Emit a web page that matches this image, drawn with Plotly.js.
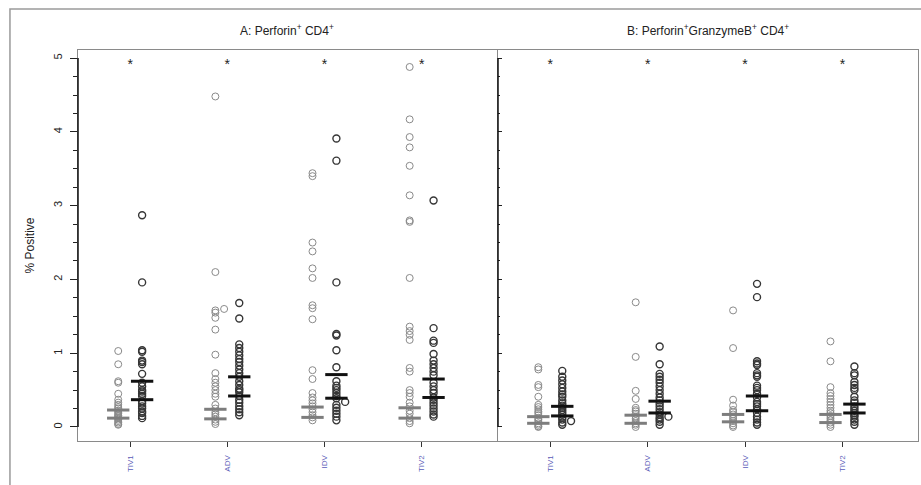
<!DOCTYPE html>
<html>
<head>
<meta charset="utf-8">
<script src="https://cdn.plot.ly/plotly-3.0.1.min.js"></script>
<style>html,body{margin:0;padding:0;background:#fff;}#chart{width:921px;height:485px;}</style>
</head>
<body>
<div id="chart"></div>
<script>
// ---------- DATA ----------
var categories = ["TIV1", "ADV", "IDV", "TIV2"];
var panelTitles = ["A: Perforin<sup>+</sup> CD4<sup>+</sup>", "B: Perforin<sup>+</sup>GranzymeB<sup>+</sup> CD4<sup>+</sup>"];
var yTitle = "% Positive";
var starText = "*";
var starLevel = [4.9, 4.9, 4.9, 4.9];

// Panel A, group 1 (gray) per category
var A_gray_TIV1 = [1.03, 0.85, 0.62, 0.60, 0.45, 0.37, 0.33, 0.30, 0.27, 0.25, 0.22, 0.20, 0.18, 0.16, 0.15, 0.13, 0.12, 0.10, 0.08, 0.06, 0.04, 0.03];
var A_gray_ADV  = [4.48, 2.10, 1.58, 1.55, 1.48, 1.32, 0.98, 0.73, 0.65, 0.60, 0.55, 0.50, 0.45, 0.41, 0.30, 0.25, 0.20, 0.17, 0.14, 0.10, 0.07, 0.04];
var A_gray_IDV  = [3.44, 3.40, 2.50, 2.38, 2.15, 2.02, 1.65, 1.61, 1.46, 0.77, 0.65, 0.46, 0.40, 0.36, 0.32, 0.28, 0.24, 0.20, 0.16, 0.13, 0.09];
var A_gray_TIV2 = [4.88, 4.17, 3.93, 3.79, 3.54, 3.14, 2.80, 2.78, 2.02, 1.36, 1.30, 1.25, 1.18, 0.80, 0.75, 0.50, 0.46, 0.41, 0.33, 0.28, 0.22, 0.18, 0.12, 0.08, 0.05];
// Panel A, group 2 (black)
var A_black_TIV1 = [2.87, 1.96, 1.04, 1.02, 0.90, 0.88, 0.85, 0.72, 0.60, 0.55, 0.50, 0.48, 0.45, 0.42, 0.35, 0.32, 0.28, 0.25, 0.21, 0.19, 0.15, 0.12];
var A_black_ADV  = [1.68, 1.47, 1.12, 1.07, 1.02, 0.97, 0.92, 0.88, 0.83, 0.78, 0.73, 0.68, 0.62, 0.57, 0.52, 0.50, 0.47, 0.42, 0.37, 0.33, 0.28, 0.24, 0.20, 0.16];
var A_black_IDV  = [3.91, 3.61, 1.96, 1.26, 1.24, 1.04, 0.81, 0.62, 0.56, 0.53, 0.50, 0.46, 0.42, 0.39, 0.30, 0.26, 0.22, 0.18, 0.14, 0.09];
var A_black_TIV2 = [3.07, 1.34, 1.17, 1.14, 0.99, 0.90, 0.85, 0.80, 0.75, 0.70, 0.60, 0.55, 0.50, 0.46, 0.40, 0.37, 0.33, 0.29, 0.25, 0.21, 0.17, 0.14];
// points drawn beside their column (stacked ties): [category index, value]
var A_gray_side  = [[1, 1.60]];
var A_black_side = [[2, 0.34]];
// summary bars (upper, lower) per category
var A_gray_upper  = [0.23, 0.24, 0.27, 0.26];
var A_gray_lower  = [0.12, 0.11, 0.13, 0.12];
var A_black_upper = [0.62, 0.68, 0.71, 0.65];
var A_black_lower = [0.37, 0.42, 0.39, 0.40];

// Panel B, group 1 (gray)
var B_gray_TIV1 = [0.81, 0.78, 0.57, 0.54, 0.41, 0.30, 0.27, 0.24, 0.21, 0.19, 0.16, 0.12, 0.10, 0.08, 0.05, 0.03, 0.01, 0.00];
var B_gray_ADV  = [1.69, 0.95, 0.49, 0.38, 0.26, 0.23, 0.21, 0.18, 0.14, 0.11, 0.08, 0.05, 0.03, 0.00];
var B_gray_IDV  = [1.58, 1.07, 0.37, 0.29, 0.23, 0.20, 0.17, 0.14, 0.11, 0.08, 0.05, 0.02, 0.00];
var B_gray_TIV2 = [1.16, 0.89, 0.54, 0.46, 0.42, 0.38, 0.34, 0.30, 0.26, 0.22, 0.19, 0.15, 0.12, 0.09, 0.06, 0.03, 0.00];
// Panel B, group 2 (black)
var B_black_TIV1 = [0.76, 0.68, 0.63, 0.58, 0.53, 0.48, 0.44, 0.41, 0.36, 0.32, 0.29, 0.26, 0.23, 0.20, 0.17, 0.13, 0.10, 0.06, 0.03];
var B_black_ADV  = [1.09, 0.85, 0.72, 0.68, 0.64, 0.60, 0.55, 0.50, 0.45, 0.40, 0.36, 0.32, 0.28, 0.24, 0.20, 0.17, 0.13, 0.10, 0.07, 0.03];
var B_black_IDV  = [1.94, 1.76, 0.89, 0.86, 0.84, 0.73, 0.70, 0.68, 0.56, 0.53, 0.50, 0.45, 0.40, 0.34, 0.31, 0.28, 0.24, 0.19, 0.14, 0.10, 0.06, 0.03];
var B_black_TIV2 = [0.82, 0.73, 0.70, 0.61, 0.57, 0.53, 0.50, 0.41, 0.36, 0.33, 0.28, 0.25, 0.22, 0.19, 0.16, 0.14, 0.10, 0.07, 0.03];
var B_gray_side  = [];
var B_black_side = [[0, 0.08], [1, 0.14]];
var B_gray_upper  = [0.14, 0.16, 0.17, 0.17];
var B_gray_lower  = [0.05, 0.05, 0.07, 0.06];
var B_black_upper = [0.28, 0.35, 0.42, 0.31];
var B_black_lower = [0.15, 0.19, 0.22, 0.19];

// ---------- STYLE ----------
var grayCol = "#8a8a8a", blackCol = "#363636";
var grayBar = "#7d7d7d", blackBar = "#111111";
var groupOffset = 0.123, barHalf = 0.115, sideShift = 0.09;
var FONT = "Liberation Sans, Arial, sans-serif";

function pointTrace(cols, side, off, color, xa, ya, lw) {
  var x = [], y = [];
  cols.forEach(function (vals, i) {
    vals.forEach(function (v) { x.push(i + 1 + off); y.push(v); });
  });
  side.forEach(function (p) { x.push(p[0] + 1 + off + sideShift); y.push(p[1]); });
  return { type: "scatter", mode: "markers", x: x, y: y, xaxis: xa, yaxis: ya,
    marker: { symbol: "circle-open", size: 7, color: color, line: { width: lw, color: color } },
    hoverinfo: "y", showlegend: false };
}
function barTrace(upper, lower, off, color, xa, ya) {
  var x = [], y = [];
  [upper, lower].forEach(function (arr) {
    arr.forEach(function (v, i) {
      var c = i + 1 + off;
      x.push(c - barHalf, c + barHalf, null);
      y.push(v, v, null);
    });
  });
  return { type: "scatter", mode: "lines", x: x, y: y, xaxis: xa, yaxis: ya,
    line: { color: color, width: 3 }, hoverinfo: "skip", showlegend: false };
}
function starTrace(xa, ya) {
  return { type: "scatter", mode: "text", x: categories.map(function (c, i) { return i + 1; }),
    y: starLevel, text: categories.map(function () { return starText; }), xaxis: xa, yaxis: ya,
    textposition: "middle center", textfont: { family: FONT, size: 14, color: "#222" },
    hoverinfo: "skip", showlegend: false };
}

var data = [
  pointTrace([A_gray_TIV1, A_gray_ADV, A_gray_IDV, A_gray_TIV2], A_gray_side, -groupOffset, grayCol, "x", "y", 1),
  pointTrace([A_black_TIV1, A_black_ADV, A_black_IDV, A_black_TIV2], A_black_side, groupOffset, blackCol, "x", "y", 1.4),
  barTrace(A_gray_upper, A_gray_lower, -groupOffset, grayBar, "x", "y"),
  barTrace(A_black_upper, A_black_lower, groupOffset, blackBar, "x", "y"),
  starTrace("x", "y"),
  pointTrace([B_gray_TIV1, B_gray_ADV, B_gray_IDV, B_gray_TIV2], B_gray_side, -groupOffset, grayCol, "x2", "y2", 1),
  pointTrace([B_black_TIV1, B_black_ADV, B_black_IDV, B_black_TIV2], B_black_side, groupOffset, blackCol, "x2", "y2", 1.4),
  barTrace(B_gray_upper, B_gray_lower, -groupOffset, grayBar, "x2", "y2"),
  barTrace(B_black_upper, B_black_lower, groupOffset, blackBar, "x2", "y2"),
  starTrace("x2", "y2")
];

var xRange = [0.463, 4.776];
var yRange = [-0.19, 5.11];
function xAxis(domain, anchor) {
  return { domain: domain, anchor: anchor, range: xRange, tickmode: "array",
    tickvals: [1, 2, 3, 4], ticktext: categories, tickangle: -90,
    tickfont: { family: FONT, size: 8, color: "#5b5bb8" },
    ticks: "outside", ticklen: 5, tickcolor: "#333", tickwidth: 1,
    ticklabelstandoff: 5,
    showline: true, linecolor: "#8a8a8a", linewidth: 1, mirror: true,
    showgrid: false, zeroline: false, fixedrange: true };
}
var layout = {
  width: 921, height: 485,
  margin: { l: 78, r: 3, t: 50, b: 44 },
  paper_bgcolor: "#fff", plot_bgcolor: "#fff",
  font: { family: FONT, color: "#222" },
  showlegend: false,
  xaxis: xAxis([0, 0.4988], "y"),
  xaxis2: xAxis([0.5, 1], "y2"),
  yaxis: { domain: [0, 1], anchor: "x", range: yRange, tickmode: "array",
    tickvals: [0, 1, 2, 3, 4, 5], tickangle: -90,
    tickfont: { family: FONT, size: 11, color: "#222" },
    ticks: "outside", ticklen: 7, tickcolor: "#222", tickwidth: 1,
    minor: { dtick: 0.25, tick0: 0, ticks: "outside", ticklen: 4, tickcolor: "#222", showgrid: false },
    ticklabelstandoff: 4,
    showline: true, linecolor: "#8a8a8a", linewidth: 1, mirror: true,
    showgrid: false, zeroline: false, fixedrange: true,
    title: { text: yTitle, font: { family: FONT, size: 12, color: "#222" }, standoff: 14 } },
  yaxis2: { domain: [0, 1], anchor: "x2", range: yRange, matches: "y",
    tickmode: "array", tickvals: [0, 1, 2, 3, 4, 5], showticklabels: false,
    ticks: "inside", ticklen: 4, tickcolor: "#222",
    minor: { dtick: 0.25, tick0: 0, ticks: "inside", ticklen: 2, tickcolor: "#222", showgrid: false },
    showline: true, linecolor: "#8a8a8a", linewidth: 1, mirror: true,
    showgrid: false, zeroline: false, fixedrange: true },
  annotations: [
    { text: panelTitles[0], xref: "paper", yref: "paper", x: 0.2494, y: 1.051,
      xanchor: "center", yanchor: "middle", showarrow: false, font: { family: FONT, size: 12, color: "#222" } },
    { text: panelTitles[1], xref: "paper", yref: "paper", x: 0.75, y: 1.051,
      xanchor: "center", yanchor: "middle", showarrow: false, font: { family: FONT, size: 12, color: "#222" } }
  ],
  shapes: [
    // outer figure frame
    { type: "rect", xref: "paper", yref: "paper", x0: -0.081, x1: 1.1, y0: -0.2, y1: 1.105,
      line: { color: "#9a9a9a", width: 1.5 }, fillcolor: "rgba(0,0,0,0)", layer: "below" },
    // black y-axis lines spanning 0..5
    { type: "line", xref: "x domain", yref: "y", x0: 0, x1: 0, y0: 0, y1: 5, line: { color: "#111", width: 1.5 } },
    { type: "line", xref: "x2 domain", yref: "y2", x0: 0, x1: 0, y0: 0, y1: 5, line: { color: "#111", width: 1.5 } }
  ]
};

Plotly.newPlot("chart", data, layout, { displayModeBar: false, staticPlot: true });
</script>
</body>
</html>
